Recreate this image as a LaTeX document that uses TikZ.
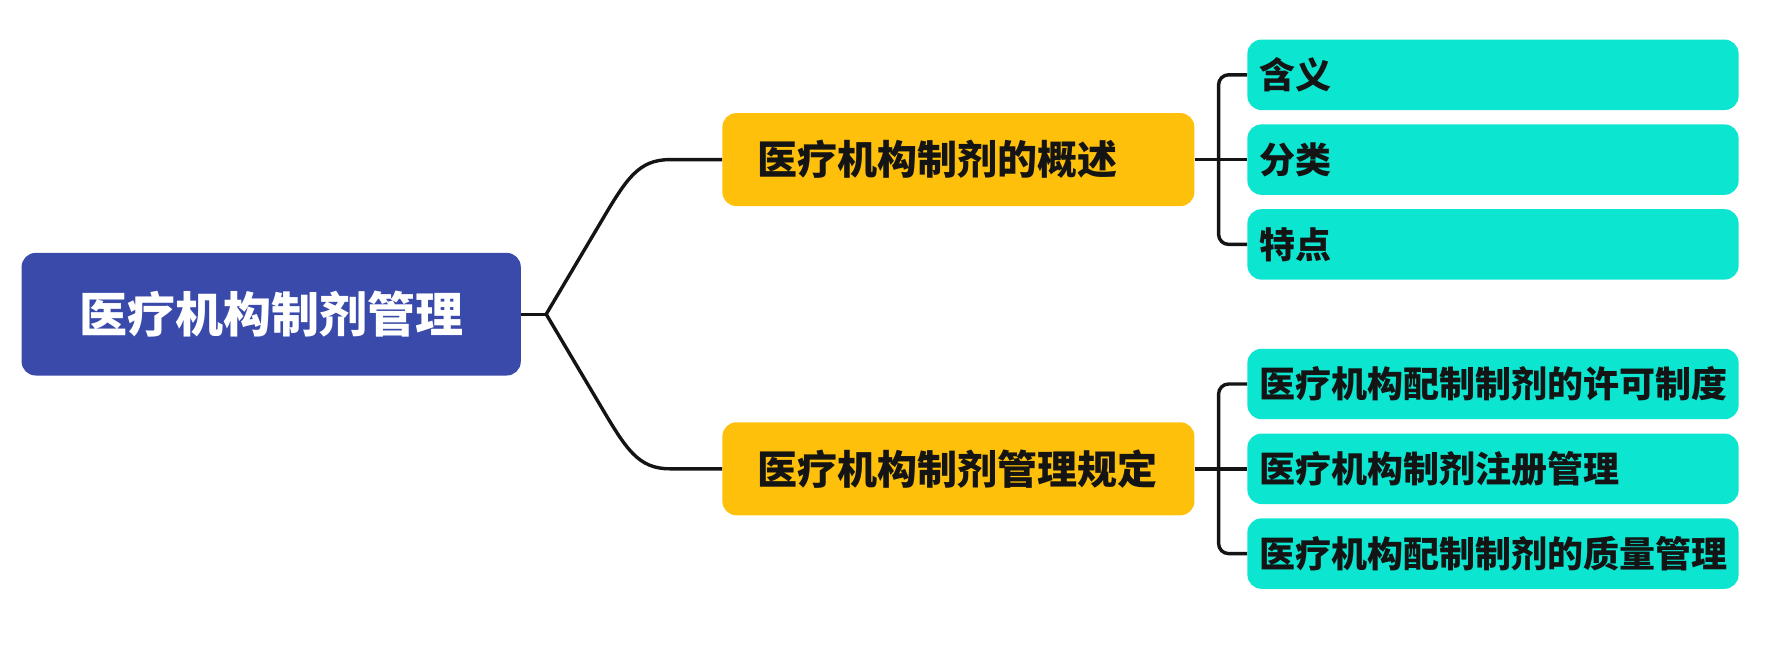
\documentclass[tikz,border=0pt]{standalone}
\usepackage{fontspec}
\setmainfont{Noto Sans CJK SC}[BoldFont={Noto Sans CJK SC Black}]
\usepackage{xcolor}
\usepackage{tikz}
\usetikzlibrary{shapes,arrows,positioning}
\definecolor{RootBlue}{RGB}{58,74,171}
\definecolor{MidYellow}{RGB}{254,192,10}
\definecolor{LeafTeal}{RGB}{12,230,209}
\definecolor{LineBlack}{RGB}{20,20,20}

\begin{document}
\begin{tikzpicture}[
      rootbox/.style={rectangle, rounded corners=7pt, fill=RootBlue, text=white, minimum width=249.6pt, minimum height=61.3pt, font=\fontsize{24}{28}\selectfont\bfseries},
      midbox/.style={rectangle, rounded corners=7pt, fill=MidYellow, text=LineBlack, text width=200.6pt, inner xsep=17.7pt, inner ysep=0pt, align=left, minimum height=46.5pt, font=\fontsize{20}{24}\selectfont\bfseries},
      leafbox/.style={rectangle, rounded corners=7pt, fill=LeafTeal, text=LineBlack, text width=234pt, inner xsep=5.8pt, inner ysep=0pt, align=left, minimum height=35.2pt, font=\fontsize{18}{22}\selectfont\bfseries},
      link/.style={draw=LineBlack, line width=1.7pt}
    ]
    \useasboundingbox (-135.6pt,-164.9pt) rectangle (753.9pt,157.1pt);

    % Root
    \node[rootbox] (root) at (0,0) {医疗机构制剂管理};
    \coordinate[right=12.5pt of root] (fork);

    % Second level
    \node[midbox, right=100.4pt of root, yshift=77.3pt] (intro) {医疗机构制剂的概述};
    \node[midbox, right=100.4pt of root, yshift=-77.3pt] (rules) {医疗机构制剂管理规定};

    % Leaves of intro
    \node[leafbox, right=26.1pt of intro] (kind) {分类};
    \node[leafbox, above=6.8pt of kind] (meaning) {含义};
    \node[leafbox, below=6.8pt of kind] (feature) {特点};

    % Leaves of rules
    \node[leafbox, right=26.1pt of rules] (register) {医疗机构制剂注册管理};
    \node[leafbox, above=6.8pt of register] (permit) {医疗机构配制制剂的许可制度};
    \node[leafbox, below=6.8pt of register] (quality) {医疗机构配制制剂的质量管理};

    % Root to second level
    \draw[link] (root.east) -- (fork);
    \draw[link] (fork) -- ++(27pt,45.5pt) .. controls +(13pt,22pt) and +(-16pt,0pt) .. ([xshift=-26pt]intro.west) -- (intro.west);
    \draw[link] (fork) -- ++(27pt,-45.5pt) .. controls +(13pt,-22pt) and +(-16pt,0pt) .. ([xshift=-26pt]rules.west) -- (rules.west);

    % Brackets to leaves
    \coordinate[right=11.9pt of intro] (introfork);
    \coordinate[right=11.9pt of rules] (rulesfork);
    \draw[link] (intro.east) -- (kind.west);
    \draw[link, rounded corners=5pt] (meaning.west) -| (introfork) |- (feature.west);
    \draw[link] (rules.east) -- (register.west);
    \draw[link, rounded corners=5pt] (permit.west) -| (rulesfork) |- (quality.west);
\end{tikzpicture}
\end{document}
